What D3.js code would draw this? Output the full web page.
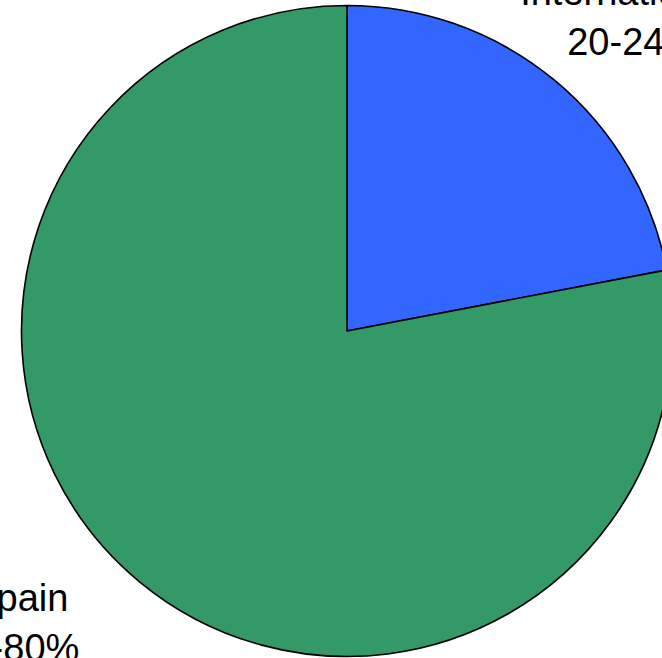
<!DOCTYPE html>
<html>
<head>
<meta charset="utf-8">
<script src="https://cdn.jsdelivr.net/npm/d3@7"></script>
<style>
  html, body { margin: 0; padding: 0; background: #ffffff; overflow: hidden; }
  svg { display: block; }
</style>
</head>
<body>
<svg id="chart" width="662" height="658"></svg>
<script>
// Share of the market by origin
const categories = ["International", "Spain"];
const values = [22, 78];
const rangeLabels = ["20-24%", "76-80%"];
const colors = ["#3366FF", "#339966"];

const width = 662, height = 658;
const cx = 347, cy = 331, radius = 325.5;

// label placement: polar angle (deg, clockwise from 12 o'clock) and distance from centre
const labelAngles = [43.2, 227.1];
const labelRadii = [413, 448];
// horizontal nudge of each label line [name, range]
const lineShift = [[-5, 3], [1, -5]];
const lineGap = 50;

const svg = d3.select("#chart");
const g = svg.append("g").attr("transform", `translate(${cx},${cy})`);

const pie = d3.pie().sort(null).value(d => d.value);
const arc = d3.arc().innerRadius(0).outerRadius(radius);

const data = categories.map((c, i) => ({ name: c, value: values[i], range: rangeLabels[i], color: colors[i], shift: lineShift[i] }));
const arcs = pie(data);

g.selectAll("path.slice")
  .data(arcs)
  .join("path")
  .attr("class", "slice")
  .attr("d", arc)
  .attr("fill", d => d.data.color)
  .attr("stroke", "#000")
  .attr("stroke-width", 1.6)
  .attr("stroke-linejoin", "round");

const labels = g.selectAll("text.lbl")
  .data(arcs)
  .join("text")
  .attr("class", "lbl")
  .attr("text-anchor", "middle")
  .attr("font-family", "'Liberation Sans', Arial, sans-serif")
  .attr("font-size", 38)
  .attr("fill", "#000")
  .attr("transform", (d, i) => {
    const a = labelAngles[i] * Math.PI / 180;
    const x = labelRadii[i] * Math.sin(a);
    const y = -labelRadii[i] * Math.cos(a);
    return `translate(${x},${y})`;
  });

labels.append("tspan").attr("x", d => d.data.shift[0]).attr("y", -lineGap / 2).text(d => d.data.name);
labels.append("tspan").attr("x", d => d.data.shift[1]).attr("y", lineGap / 2).text(d => d.data.range);
</script>
</body>
</html>
